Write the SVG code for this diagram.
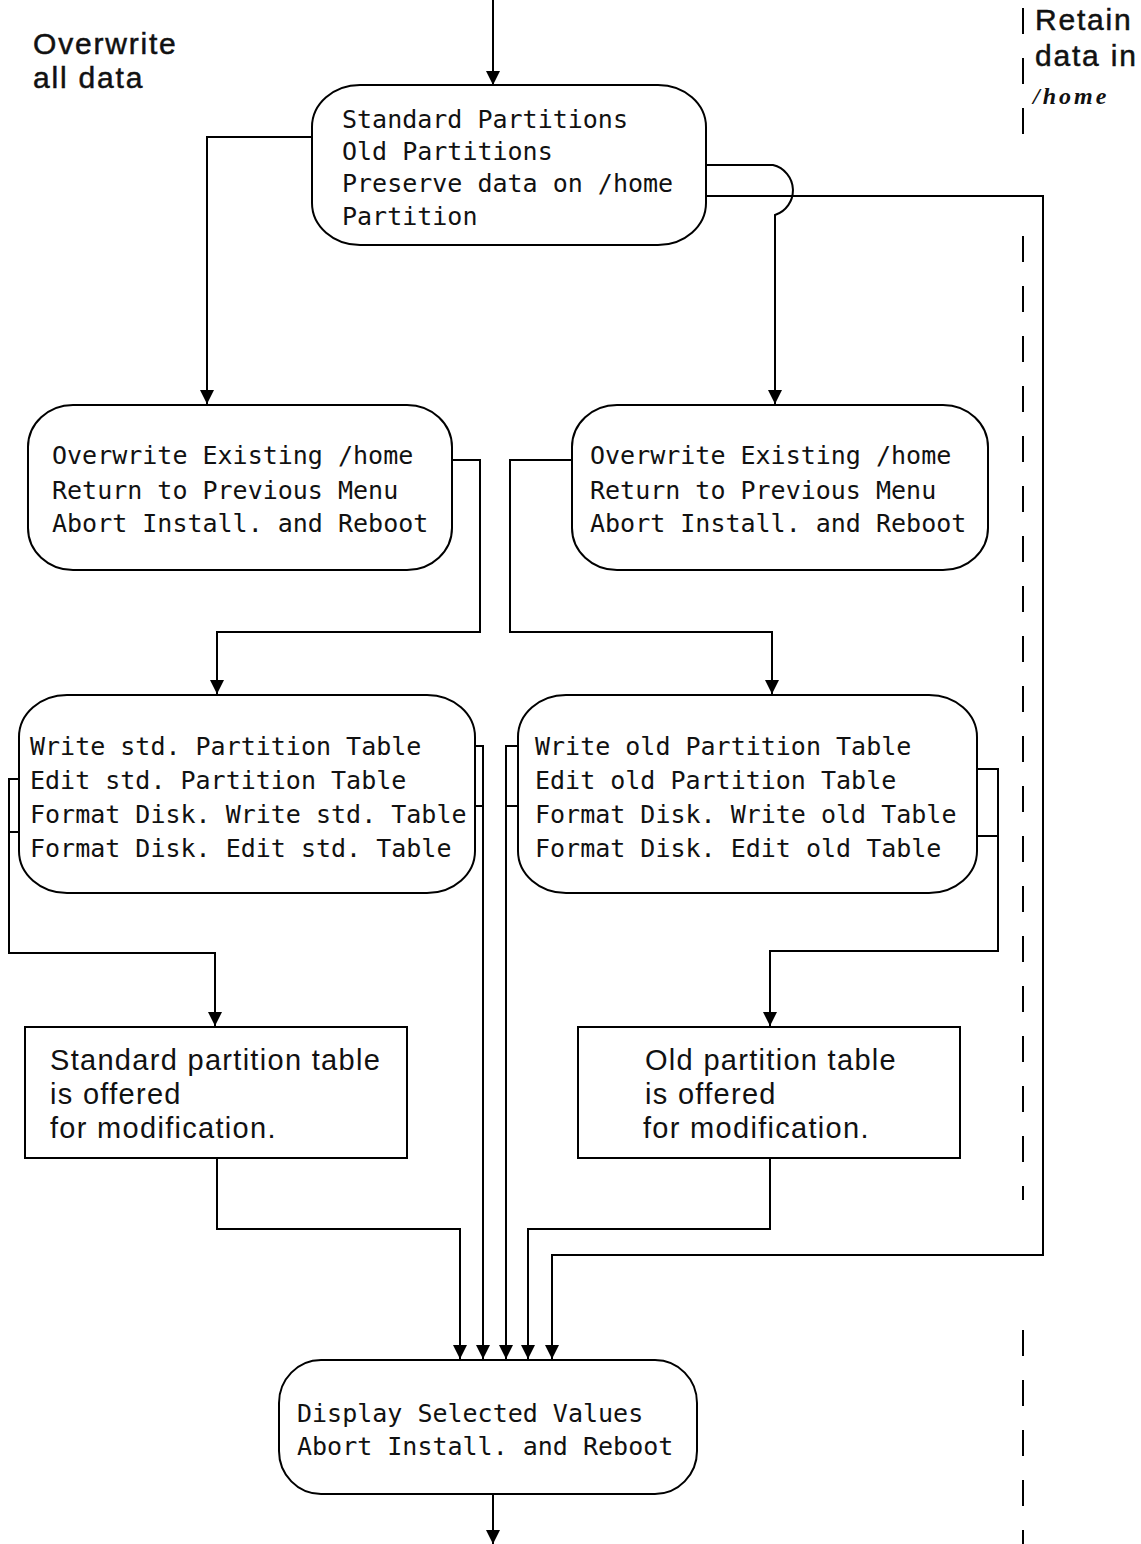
<svg xmlns="http://www.w3.org/2000/svg" width="1141" height="1544" viewBox="0 0 1141 1544">
  <style>
    .box { fill: #fff; stroke: #000; stroke-width: 2; }
    .mono { font-family: "DejaVu Sans Mono", "Liberation Mono", monospace; font-size: 25px; fill: #111; }
    .sans { font-family: "Liberation Sans", Arial, sans-serif; font-size: 29px; letter-spacing: 1.3px; fill: #111; }
    .note { font-family: "Liberation Sans", Arial, sans-serif; font-size: 30px; letter-spacing: 1.8px; fill: #111; stroke: #111; stroke-width: 0.5; }
    .wire { fill: none; stroke: #000; stroke-width: 2; }
    .arrow { marker-end: url(#head); }
    .sep { fill: none; stroke: #000; stroke-width: 2; stroke-dasharray: 26 24; }
  </style>
  <defs>
    <marker id="head" viewBox="0 0 14 14" refX="14" refY="7" markerWidth="14" markerHeight="14" markerUnits="userSpaceOnUse" orient="auto">
      <path d="M0,0 L14,7 L0,14 z" fill="#000"/>
    </marker>
  </defs>
  <rect width="1141" height="1544" fill="#fff"/>

  <!-- side annotations and the dashed divider -->
  <g id="annotations">
    <text class="note" x="33" y="54">Overwrite</text>
    <text class="note" x="33" y="88">all data</text>
    <text class="note" x="1035" y="30">Retain</text>
    <text class="note" x="1035" y="66">data in</text>
    <text x="1033" y="104" font-family="Liberation Serif, serif" font-style="italic" font-weight="bold" font-size="24" letter-spacing="3" fill="#111">/home</text>
    <path class="sep" d="M1023,8 V150" stroke-dasharray="14 24"/>
    <path class="sep" d="M1023,236 V1200"/>
    <path class="sep" d="M1023,1330 V1544"/>
  </g>

  <!-- connectors -->
  <g id="connectors">
    <path class="wire arrow" d="M493,0 V85"/>
    <path class="wire arrow" d="M312,137 H207 V404"/>
    <path class="wire arrow" d="M706,165 H773 A26 26 0 0 1 775,215 V404"/>
    <path class="wire arrow" d="M706,196 H1043 V1255 H552 V1359"/>
    <path class="wire arrow" d="M452,460 H480 V632 H217 V694"/>
    <path class="wire arrow" d="M572,460 H510 V632 H772 V694"/>
    <path class="wire arrow" d="M19,779 H9 V953 H215 V1026"/>
    <path class="wire" d="M9,832 H19"/>
    <path class="wire arrow" d="M475,746 H483 V1359"/>
    <path class="wire" d="M475,806 H483"/>
    <path class="wire arrow" d="M518,746 H506 V1359"/>
    <path class="wire" d="M506,806 H518"/>
    <path class="wire arrow" d="M977,769 H998 V951 H770 V1026"/>
    <path class="wire" d="M977,836 H998"/>
    <path class="wire arrow" d="M217,1158 V1229 H460 V1359"/>
    <path class="wire arrow" d="M770,1158 V1229 H528 V1359"/>
    <path class="wire arrow" d="M493,1494 V1544"/>
  </g>

  <g id="partition-menu">
    <rect class="box" x="312" y="85" width="394" height="160" rx="48" ry="42"/>
    <text class="mono" x="342" y="128">Standard Partitions</text>
    <text class="mono" x="342" y="160">Old Partitions</text>
    <text class="mono" x="342" y="192">Preserve data on /home</text>
    <text class="mono" x="342" y="225">Partition</text>
  </g>

  <g id="home-menu-std">
    <rect class="box" x="28" y="405" width="424" height="165" rx="45" ry="42"/>
    <text class="mono" x="52" y="464">Overwrite Existing /home</text>
    <text class="mono" x="52" y="499">Return to Previous Menu</text>
    <text class="mono" x="52" y="532">Abort Install. and Reboot</text>
  </g>

  <g id="home-menu-old">
    <rect class="box" x="572" y="405" width="416" height="165" rx="45" ry="42"/>
    <text class="mono" x="590" y="464">Overwrite Existing /home</text>
    <text class="mono" x="590" y="499">Return to Previous Menu</text>
    <text class="mono" x="590" y="532">Abort Install. and Reboot</text>
  </g>

  <g id="table-menu-std">
    <rect class="box" x="19" y="695" width="456" height="198" rx="48" ry="42"/>
    <text class="mono" x="30" y="755">Write std. Partition Table</text>
    <text class="mono" x="30" y="789">Edit std. Partition Table</text>
    <text class="mono" x="30" y="823">Format Disk. Write std. Table</text>
    <text class="mono" x="30" y="857">Format Disk. Edit std. Table</text>
  </g>

  <g id="table-menu-old">
    <rect class="box" x="518" y="695" width="459" height="198" rx="48" ry="42"/>
    <text class="mono" x="535" y="755">Write old Partition Table</text>
    <text class="mono" x="535" y="789">Edit old Partition Table</text>
    <text class="mono" x="535" y="823">Format Disk. Write old Table</text>
    <text class="mono" x="535" y="857">Format Disk. Edit old Table</text>
  </g>

  <g id="std-table-offered">
    <rect class="box" x="25" y="1027" width="382" height="131"/>
    <text class="sans" x="50" y="1070">Standard partition table</text>
    <text class="sans" x="50" y="1104">is offered</text>
    <text class="sans" x="50" y="1138">for modification.</text>
  </g>

  <g id="old-table-offered">
    <rect class="box" x="578" y="1027" width="382" height="131"/>
    <text class="sans" x="645" y="1070">Old partition table</text>
    <text class="sans" x="645" y="1104">is offered</text>
    <text class="sans" x="643" y="1138">for modification.</text>
  </g>

  <g id="display-values">
    <rect class="box" x="279" y="1360" width="418" height="134" rx="42" ry="43"/>
    <text class="mono" x="297" y="1422">Display Selected Values</text>
    <text class="mono" x="297" y="1455">Abort Install. and Reboot</text>
  </g>
</svg>
